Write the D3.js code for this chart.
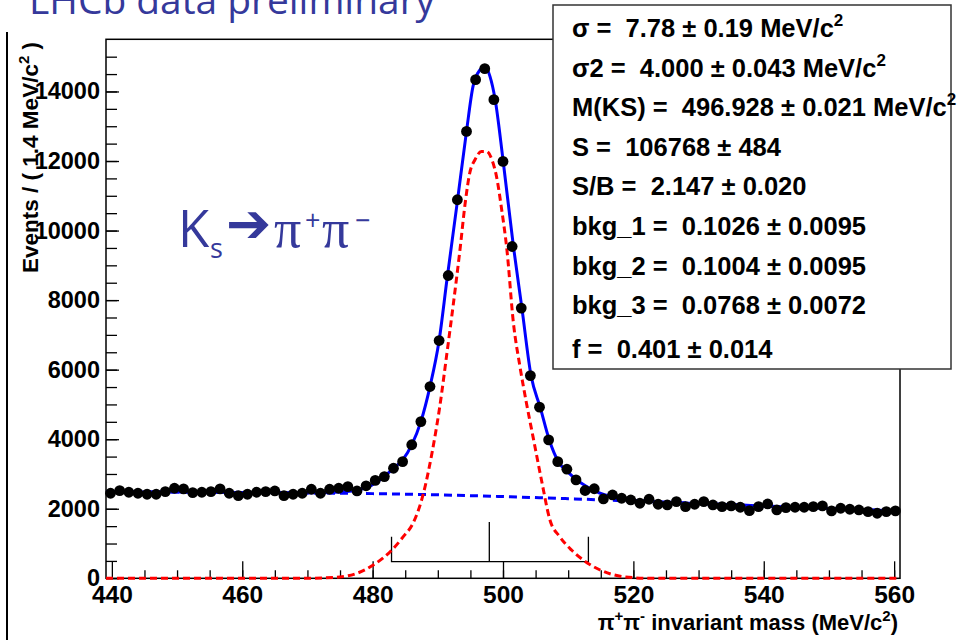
<!DOCTYPE html>
<html>
<head>
<meta charset="utf-8">
<script src="https://cdn.jsdelivr.net/npm/d3@7"></script>
<style>
	body { margin: 0; background: #fff; }
	svg { display: block; }
	text { font-family: "Liberation Sans", Arial, sans-serif; font-weight: bold; white-space: pre; }
</style>
</head>
<body>
<div id="vizHolder"></div>
<script>
// histogram binning and counts per 1.4 MeV bin
var binLow = 439.1,
	binWidth = 1.4;
var counts = [2446, 2521, 2475, 2446, 2417, 2417, 2492, 2590, 2570, 2463,
	2475, 2492, 2570, 2446, 2377, 2417, 2475, 2492, 2512, 2377,
	2417, 2446, 2561, 2446, 2561, 2590, 2636, 2512, 2660, 2815,
	2924, 3165, 3355, 3841, 4506, 5514, 6837, 8708, 10886, 12852,
	14340, 14656, 13764, 11988, 9542, 7770, 5830, 4921, 3980, 3355,
	3137, 2829, 2525, 2575, 2282, 2397, 2302, 2253, 2158, 2273,
	2129, 2109, 2204, 2060, 2129, 2204, 2109, 2060, 2081, 2043,
	1945, 2060, 2138, 1965, 2032, 2043, 2043, 2060, 2081, 1937,
	2014, 1986, 1965, 1917, 1871, 1917, 1937];

// fit curves
var totMass = [439.1, 450, 460, 470, 475, 478.8, 481.1, 483.2, 484.6, 486.0, 487.4, 488.8, 490.2, 491.4, 492.9, 494.4, 495.4, 496.5, 497.2, 498.0, 498.8, 500.0, 501.6, 502.9, 504.3, 505.7, 507.1, 508.5, 509.9, 511.3, 513.3, 514.9, 518.5, 522.5, 530, 540, 550, 560.9];
var totValue = [2490, 2480, 2470, 2460, 2485, 2590, 2829, 3165, 3404, 3836, 4506, 5514, 6837, 8584, 10694, 12852, 14147, 14627, 14722, 14435, 13764, 12037, 9542, 7770, 5830, 4921, 3980, 3355, 3068, 2829, 2590, 2446, 2280, 2215, 2150, 2080, 2010, 1930];

var sigMass = [439.1, 470, 475.0, 477.6, 480.1, 482.7, 484.7, 486.2, 487.8, 489.1, 490.3, 491.4, 492.4, 493.4, 494.2, 494.9, 495.7, 496.7, 497.5, 498.3, 499.0, 499.8, 500.6, 501.6, 502.6, 503.6, 504.6, 505.9, 507.2, 508.7, 510.5, 512.3, 514.9, 518.5, 522.5, 560.9];
var sigValue = [0, 0, 40, 144, 383, 765, 1197, 1583, 2446, 3597, 4938, 6475, 7914, 9447, 10791, 11655, 12037, 12276, 12276, 12037, 11557, 10599, 9447, 7338, 6089, 5036, 4075, 2829, 1678, 1197, 814, 527, 239, 46, 0, 0];

var bkgMass = [439.1, 450, 460, 470, 480, 490, 500, 510, 520, 530, 540, 550, 560.9];
var bkgValue = [2490, 2480, 2470, 2455, 2435, 2400, 2350, 2290, 2220, 2150, 2080, 2010, 1930];

// mass window marker (low, centre, high) and its heights in events (base, sides, centre)
var windowMass = [482.9, 497.9, 513.1];
var windowLevels = [478, 1197, 1620];

var xTicks = [440, 460, 480, 500, 520, 540, 560];
var yTicks = [0, 2000, 4000, 6000, 8000, 10000, 12000, 14000];

var statLabels = ["σ", "σ2", "M(KS)", "S", "S/B", "bkg_1", "bkg_2", "bkg_3", "f"];
var statValues = ["7.78", "4.000", "496.928", "106768", "2.147", "0.1026", "0.1004", "0.0768", "0.401"];
var statErrors = ["0.19", "0.043", "0.021", "484", "0.020", "0.0095", "0.0095", "0.0072", "0.014"];
var statUnits = ["MeV/c", "MeV/c", "MeV/c", "", "", "", "", "", ""];

var width = 957,
	height = 640,
	plot = { left: 106, right: 900, top: 39.3, bottom: 578.3 },
	blue = '#35399b';

var xScale = d3.scaleLinear()
	.domain([binLow, binLow + binWidth * counts.length])
	.range([plot.left, plot.right]);

var yScale = d3.scaleLinear()
	.domain([0, 15500])
	.range([plot.bottom, plot.top]);

var svg = d3.select('#vizHolder')
	.append('svg')
	.attr('width', width)
	.attr('height', height);

// title, cut off at the top edge
svg.append('text')
	.attr('x', 29)
	.attr('y', 14)
	.attr('textLength', 406)
	.attr('lengthAdjust', 'spacingAndGlyphs')
	.style('font-family', '"Open Sans", sans-serif')
	.style('font-weight', 'normal')
	.style('font-size', '38px')
	.attr('fill', blue)
	.text('LHCb data preliminary');

// slide edge line on the left
svg.append('line')
	.attr('x1', 7).attr('x2', 7)
	.attr('y1', 32).attr('y2', height)
	.attr('stroke', '#000')
	.attr('stroke-width', 2);

// frame
svg.append('rect')
	.attr('x', plot.left)
	.attr('y', plot.top)
	.attr('width', plot.right - plot.left)
	.attr('height', plot.bottom - plot.top)
	.attr('fill', 'none')
	.attr('stroke', '#000')
	.attr('stroke-width', 1.5);

// axes, ticks pointing inwards
var xMinor = svg.append('g')
	.attr('transform', 'translate(0,' + plot.bottom + ')')
	.call(d3.axisBottom(xScale).tickValues(d3.range(445, 561, 5)).tickSizeInner(-8).tickSizeOuter(0).tickFormat(''));
var xMajor = svg.append('g')
	.attr('transform', 'translate(0,' + plot.bottom + ')')
	.call(d3.axisBottom(xScale).tickValues(xTicks).tickSizeInner(-17).tickSizeOuter(0));
var yMinor = svg.append('g')
	.attr('transform', 'translate(' + plot.left + ',0)')
	.call(d3.axisLeft(yScale).tickValues(d3.range(500, 15500, 500)).tickSizeInner(-11).tickSizeOuter(0).tickFormat(''));
var yMajor = svg.append('g')
	.attr('transform', 'translate(' + plot.left + ',0)')
	.call(d3.axisLeft(yScale).tickValues(yTicks).tickSizeInner(-13).tickSizeOuter(0).tickFormat(d3.format('d')));

svg.selectAll('.domain').remove();
svg.selectAll('.tick line').attr('stroke', '#000').attr('stroke-width', 1.3);
xMajor.selectAll('text')
	.attr('y', 25).attr('dy', 0)
	.style('font-size', '24.5px').attr('fill', '#000');
yMajor.selectAll('text')
	.attr('x', -6)
	.style('font-size', '23.5px').attr('fill', '#000');

// axis titles
var xTitle = svg.append('text')
	.attr('x', 898).attr('y', 630)
	.attr('text-anchor', 'end')
	.style('font-size', '22px');
xTitle.append('tspan').text('π');
xTitle.append('tspan').attr('dy', -9).style('font-size', '15px').text('+');
xTitle.append('tspan').attr('dy', 9).text('π');
xTitle.append('tspan').attr('dy', -9).style('font-size', '15px').text('-');
xTitle.append('tspan').attr('dy', 9).text(' invariant mass (MeV/c');
xTitle.append('tspan').attr('dy', -9).style('font-size', '15px').text('2');
xTitle.append('tspan').attr('dy', 9).text(')');

var yTitle = svg.append('text')
	.attr('transform', 'translate(38,42) rotate(-90)')
	.attr('text-anchor', 'end')
	.style('font-size', '22.5px');
yTitle.append('tspan').text('Events / ( 1.4 MeV/c');
yTitle.append('tspan').attr('dy', -9).style('font-size', '15px').text('2');
yTitle.append('tspan').attr('dy', 9).text(' )');

// mass window marker
var wBase = yScale(windowLevels[0]);
svg.append('path')
	.attr('d', 'M' + xScale(windowMass[0]) + ',' + yScale(windowLevels[1]) +
		'V' + wBase + 'H' + xScale(windowMass[2]) + 'V' + yScale(windowLevels[1]) +
		'M' + xScale(windowMass[1]) + ',' + wBase + 'V' + yScale(windowLevels[2]))
	.attr('fill', 'none')
	.attr('stroke', '#000')
	.attr('stroke-width', 1.3);

// curves
var line = d3.line()
	.x(function(d) { return xScale(d[0]); })
	.y(function(d) { return yScale(d[1]); })
	.curve(d3.curveMonotoneX);

svg.append('path')
	.datum(d3.zip(bkgMass, bkgValue))
	.attr('d', line)
	.attr('fill', 'none')
	.attr('stroke', '#0000ff')
	.attr('stroke-width', 3)
	.attr('stroke-dasharray', '8,5');

svg.append('path')
	.datum(d3.zip(sigMass, sigValue))
	.attr('d', line)
	.attr('fill', 'none')
	.attr('stroke', '#ff0000')
	.attr('stroke-width', 3)
	.attr('stroke-dasharray', '7,4');

svg.append('path')
	.datum(d3.zip(totMass, totValue))
	.attr('d', line)
	.attr('fill', 'none')
	.attr('stroke', '#0000ff')
	.attr('stroke-width', 3);

// data points
svg.append('g')
	.selectAll('circle')
	.data(counts)
	.enter()
	.append('circle')
	.attr('cx', function(d, i) { return xScale(binLow + binWidth * (i + 0.5)); })
	.attr('cy', function(d) { return yScale(d); })
	.attr('r', 5.4)
	.attr('fill', '#000');

// Ks -> pi+ pi- label
var ks = svg.append('text')
	.attr('y', 247)
	.attr('fill', blue)
	.style('font-weight', 'normal');
ks.append('tspan').attr('x', 178).style('font-family', '"Open Sans", sans-serif').style('font-size', '51px').text('K');
ks.append('tspan').attr('x', 210).attr('dy', 11).style('font-family', '"Open Sans", sans-serif').style('font-size', '27px').text('s');
ks.append('tspan').attr('x', 226).attr('dy', -16).style('font-family', '"DejaVu Sans", sans-serif').style('font-weight', 'bold').style('font-size', '54px').text('➔');
ks.append('tspan').attr('x', 274).attr('dy', 5).style('font-family', '"Liberation Serif", serif').style('font-size', '54px').text('π');
ks.append('tspan').attr('x', 305).attr('dy', -17).style('font-family', '"Open Sans", sans-serif').style('font-size', '27px').text('+');
ks.append('tspan').attr('x', 322).attr('dy', 17).style('font-family', '"Liberation Serif", serif').style('font-size', '54px').text('π');
ks.append('tspan').attr('x', 355).attr('dy', -17).style('font-family', '"Open Sans", sans-serif').style('font-size', '27px').text('−');

// fit parameter box
svg.append('rect')
	.attr('x', 553).attr('y', 5)
	.attr('width', 398).attr('height', 364)
	.attr('fill', '#fff')
	.attr('stroke', '#333')
	.attr('stroke-width', 1.5);

var rows = svg.append('g').selectAll('text')
	.data(statLabels)
	.enter()
	.append('text')
	.attr('x', 572)
	.attr('y', function(d, i) { return 37 + i * 39.6 + (i === statLabels.length - 1 ? 4 : 0); })
	.style('font-size', '25.5px');

rows.each(function(d, i) {
	var t = d3.select(this);
	t.append('tspan').text(d + ' =  ' + statValues[i]);
	t.append('tspan').text(' ± ');
	t.append('tspan').text(statErrors[i]);
	if (statUnits[i]) {
		t.append('tspan').text(' ' + statUnits[i]);
		t.append('tspan').attr('dy', -11).style('font-size', '17px').text('2');
	}
});
</script>
</body>
</html>
